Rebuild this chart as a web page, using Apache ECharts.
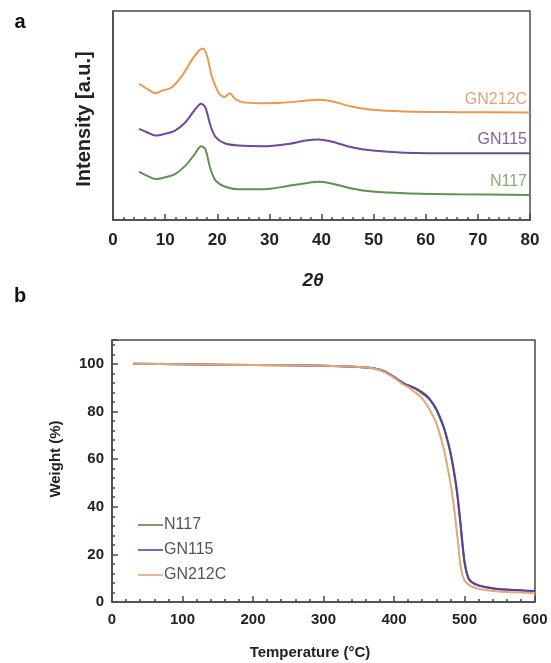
<!DOCTYPE html>
<html>
<head>
<meta charset="utf-8">
<script src="https://cdn.jsdelivr.net/npm/echarts@6/dist/echarts.min.js"></script>
<style>
html,body{margin:0;padding:0;background:#fff;}
#chart{width:551px;height:663px;}
</style>
</head>
<body>
<div id="chart"></div>
<script>
// ---- Panel a: XRD (2θ vs intensity, arbitrary units) ----
const xrdThetaGN212C = [5, 6.5, 8.2, 9.5, 11.2, 13.3, 15.3, 16.6, 17.3, 18.1, 19.0, 20.4, 21.4, 22.4, 23.4, 24.8, 28.2, 32.2, 36.3, 39.3, 41.7, 45.8, 49.8, 55.9, 66.1, 80];
const xrdGN212C = [65.2, 62.8, 60.7, 62.0, 63.3, 69.2, 77.2, 81.3, 82.1, 78.0, 68.4, 60.4, 58.8, 60.7, 58.0, 56.4, 55.9, 56.1, 56.9, 57.5, 56.9, 54.3, 52.7, 51.9, 51.6, 51.4];
const xrdTheta = [5, 6.5, 8.2, 9.9, 11.9, 13.9, 15.6, 16.9, 17.7, 18.7, 19.7, 21.4, 24.1, 28.8, 33.6, 37.0, 39.3, 41.7, 45.8, 49.8, 55.9, 66.1, 80];
const xrdGN115 = [43.6, 42.0, 40.4, 41.2, 42.8, 46.8, 52.4, 55.6, 54.0, 45.2, 39.6, 36.7, 35.6, 35.3, 36.4, 38.0, 38.5, 37.7, 34.8, 33.2, 32.2, 31.9, 31.9];
const xrdN117 = [23.2, 21.2, 19.6, 20.4, 22.0, 26.0, 31.3, 35.3, 34.0, 24.4, 18.8, 16.0, 14.7, 14.7, 16.3, 17.6, 18.3, 17.6, 15.1, 13.6, 12.8, 12.3, 12.0];
const xrdTicks = [0, 10, 20, 30, 40, 50, 60, 70, 80];

// ---- Panel b: TGA (temperature vs weight %) ----
const tgaTemp = [30, 100, 200, 300, 350, 370, 380, 390, 400, 410, 415, 420, 430, 440, 450, 460, 470, 475, 480, 485, 490, 495, 500, 505, 510, 520, 530, 545, 560, 580, 600];
const tgaN117 = [100, 99.8, 99.5, 99.2, 98.7, 98.1, 97.4, 96.2, 94.4, 92.4, 91.5, 90.9, 89.6, 87.6, 85.2, 80.6, 73.5, 68.5, 62.5, 54.5, 44.5, 30.5, 16.5, 10.2, 8.3, 6.9, 6.2, 5.5, 5.1, 4.8, 4.5];
const tgaGN115 = [100, 99.8, 99.5, 99.2, 98.7, 98.2, 97.5, 96.3, 94.5, 92.5, 91.6, 91.0, 89.8, 88.0, 85.5, 81.0, 74.0, 69.0, 63.0, 55.0, 45.0, 31.0, 17.0, 10.5, 8.5, 7.0, 6.3, 5.6, 5.2, 4.9, 4.6];
const tgaGN212C = [100, 99.8, 99.5, 99.2, 98.7, 98.1, 97.3, 96.0, 94.2, 92.0, 91.0, 90.3, 88.0, 85.5, 81.0, 75.0, 65.0, 58.0, 50.0, 40.0, 27.0, 14.0, 9.0, 7.5, 6.5, 5.5, 5.0, 4.5, 4.2, 4.0, 3.8];

const seriesNames = ['N117', 'GN115', 'GN212C'];
const colorsA = {N117: '#5f9150', GN115: '#7148a0', GN212C: '#e8994f'};
const labelColorsA = {N117: '#86ad74', GN115: '#8163a8', GN212C: '#dba57b'};
const colorsB = {N117: '#5a7f4a', GN115: '#5d3f9c', GN212C: '#e2a677'};

function zip(xs, ys) { return xs.map((x, i) => [x, ys[i]]); }

const FONT = 'Liberation Sans, Arial, sans-serif';
const frameColor = '#4a4a4a';

const chart = echarts.init(document.getElementById('chart'), null, {renderer: 'canvas'});

const option = {
  backgroundColor: '#fff',
  animation: false,
  grid: [
    {left: 113, top: 11, width: 417, height: 209, show: true, borderColor: frameColor, borderWidth: 1.5, backgroundColor: 'transparent'},
    {left: 112, top: 340, width: 423, height: 262, show: true, borderColor: frameColor, borderWidth: 1.5, backgroundColor: 'transparent'}
  ],
  xAxis: [
    {
      type: 'value', gridIndex: 0, min: 0, max: 80, interval: 10,
      axisLine: {show: true, onZero: false, lineStyle: {color: frameColor, width: 1.5}},
      axisTick: {show: true, inside: true, length: 6, lineStyle: {color: frameColor, width: 1.5}},
      minorTick: {show: true, splitNumber: 5, length: 3, lineStyle: {color: frameColor, width: 1.5}},
      axisLabel: {fontSize: 17, fontWeight: 'bold', color: '#222', fontFamily: FONT, margin: 12},
      splitLine: {show: false}
    },
    {
      type: 'value', gridIndex: 1, min: 0, max: 600, interval: 100,
      axisLine: {show: true, onZero: false, lineStyle: {color: frameColor, width: 1.5}},
      axisTick: {show: true, inside: true, length: 6, lineStyle: {color: frameColor, width: 1.5}},
      minorTick: {show: true, splitNumber: 5, length: 3, lineStyle: {color: frameColor, width: 1.5}},
      axisLabel: {fontSize: 15, fontWeight: 'bold', color: '#222', fontFamily: FONT, margin: 10},
      splitLine: {show: false}
    }
  ],
  yAxis: [
    {
      type: 'value', gridIndex: 0, min: 0, max: 100,
      axisLine: {show: true, onZero: false, lineStyle: {color: frameColor, width: 1.5}},
      axisTick: {show: false}, axisLabel: {show: false}, splitLine: {show: false}
    },
    {
      type: 'value', gridIndex: 1, min: 0, max: 110, interval: 20,
      axisLine: {show: true, onZero: false, lineStyle: {color: frameColor, width: 1.5}},
      axisTick: {show: true, inside: true, length: 6, lineStyle: {color: frameColor, width: 1.5}},
      minorTick: {show: true, splitNumber: 5, length: 3, lineStyle: {color: frameColor, width: 1.5}},
      axisLabel: {fontSize: 15, fontWeight: 'bold', color: '#222', fontFamily: FONT, margin: 8,
        formatter: v => (v > 100 ? '' : String(v))},
      splitLine: {show: false}
    }
  ],
  legend: {
    data: seriesNames,
    orient: 'vertical', left: 133, top: 512,
    itemWidth: 25, itemHeight: 10, itemGap: 9,
    textStyle: {fontSize: 16, color: '#555', fontFamily: FONT, padding: [0, 0, 0, -4]},
    icon: 'path://M0,4.2 L25,4.2 L25,5.8 L0,5.8 Z'
  },
  series: [
    {name: 'XRD GN212C', type: 'line', xAxisIndex: 0, yAxisIndex: 0, data: zip(xrdThetaGN212C, xrdGN212C), symbol: 'none', smooth: 0.3, lineStyle: {color: colorsA.GN212C, width: 2}, itemStyle: {color: colorsA.GN212C}},
    {name: 'XRD GN115', type: 'line', xAxisIndex: 0, yAxisIndex: 0, data: zip(xrdTheta, xrdGN115), symbol: 'none', smooth: 0.3, lineStyle: {color: colorsA.GN115, width: 2}, itemStyle: {color: colorsA.GN115}},
    {name: 'XRD N117', type: 'line', xAxisIndex: 0, yAxisIndex: 0, data: zip(xrdTheta, xrdN117), symbol: 'none', smooth: 0.3, lineStyle: {color: colorsA.N117, width: 2}, itemStyle: {color: colorsA.N117}},
    {name: 'N117', type: 'line', xAxisIndex: 1, yAxisIndex: 1, data: zip(tgaTemp, tgaN117), symbol: 'none', smooth: 0.3, lineStyle: {color: colorsB.N117, width: 2}, itemStyle: {color: colorsB.N117}},
    {name: 'GN115', type: 'line', xAxisIndex: 1, yAxisIndex: 1, data: zip(tgaTemp, tgaGN115), symbol: 'none', smooth: 0.3, lineStyle: {color: colorsB.GN115, width: 2}, itemStyle: {color: colorsB.GN115}},
    {name: 'GN212C', type: 'line', xAxisIndex: 1, yAxisIndex: 1, data: zip(tgaTemp, tgaGN212C), symbol: 'none', smooth: 0.3, lineStyle: {color: colorsB.GN212C, width: 2}, itemStyle: {color: colorsB.GN212C}}
  ],
  graphic: [
    {type: 'text', x: 20, y: 22, style: {text: 'a', font: 'bold 20px ' + FONT, fill: '#111', textAlign: 'center', textVerticalAlign: 'middle'}},
    {type: 'text', x: 20, y: 296, style: {text: 'b', font: 'bold 20px ' + FONT, fill: '#111', textAlign: 'center', textVerticalAlign: 'middle'}},
    {type: 'text', x: 84, y: 119, rotation: Math.PI / 2, style: {text: 'Intensity [a.u.]', font: 'bold 20px ' + FONT, fill: '#222', textAlign: 'center', textVerticalAlign: 'middle'}},
    {type: 'text', x: 313, y: 281, style: {text: '2θ', font: 'italic bold 19px ' + FONT, fill: '#222', textAlign: 'center', textVerticalAlign: 'middle'}},
    {type: 'text', x: 56, y: 459, rotation: Math.PI / 2, style: {text: 'Weight (%)', font: 'bold 15px ' + FONT, fill: '#222', textAlign: 'center', textVerticalAlign: 'middle'}},
    {type: 'text', x: 310, y: 653, style: {text: 'Temperature (°C)', font: 'bold 15px ' + FONT, fill: '#222', textAlign: 'center', textVerticalAlign: 'middle'}},
    {type: 'text', x: 527, y: 100, style: {text: 'GN212C', font: '16px ' + FONT, fill: labelColorsA.GN212C, textAlign: 'right', textVerticalAlign: 'middle'}},
    {type: 'text', x: 527, y: 140, style: {text: 'GN115', font: '16px ' + FONT, fill: labelColorsA.GN115, textAlign: 'right', textVerticalAlign: 'middle'}},
    {type: 'text', x: 527, y: 182, style: {text: 'N117', font: '16px ' + FONT, fill: labelColorsA.N117, textAlign: 'right', textVerticalAlign: 'middle'}}
  ]
};
chart.setOption(option);
</script>
</body>
</html>
